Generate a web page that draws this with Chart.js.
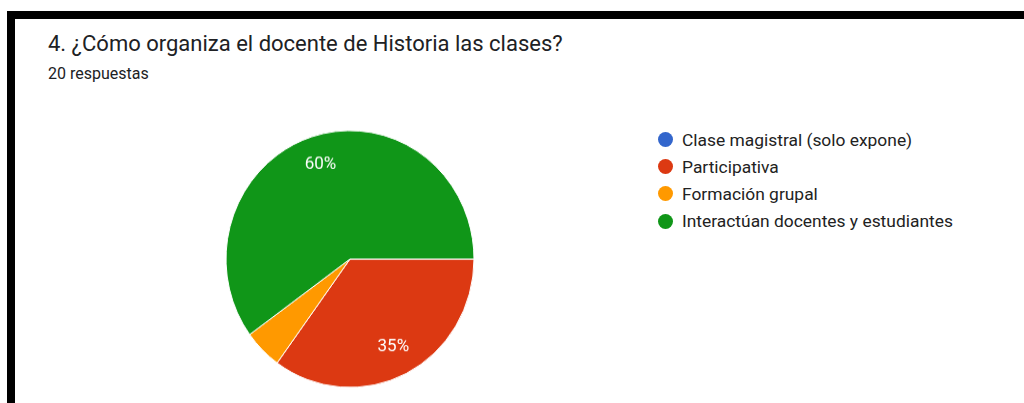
<!DOCTYPE html>
<html>
<head>
<meta charset="utf-8">
<script src="https://cdn.jsdelivr.net/npm/chart.js@4.4.0/dist/chart.umd.min.js"></script>
<style>
  body { margin: 0; background: #fff; font-family: Roboto, Arial, sans-serif; }
  #page { position: relative; width: 1024px; height: 403px; overflow: hidden; background: #fff; }
  #frameTop { position: absolute; left: 7px; top: 11px; width: 1017px; height: 8px; background: #000; }
  #frameLeft { position: absolute; left: 7px; top: 11px; width: 8px; height: 392px; background: #000; }
  #title { position: absolute; left: 48px; top: 31px; font-size: 22px; color: #202124; white-space: nowrap; }
  #subtitle { position: absolute; left: 48px; top: 64px; font-size: 16px; color: #202124; white-space: nowrap; }
  #pieBox { position: absolute; left: 219.5px; top: 129px; width: 260px; height: 260px; transform: scaleY(1.036); }
  #legend { position: absolute; left: 658px; top: 126px; }
  .item { display: flex; align-items: center; height: 27.2px; font-size: 17.4px; color: #222; white-space: nowrap; }
  .dot { width: 15px; height: 15px; border-radius: 50%; margin-right: 9px; }
</style>
</head>
<body>
<div id="page">
  <div id="frameTop"></div>
  <div id="frameLeft"></div>
  <div id="title">4. ¿Cómo organiza el docente de Historia las clases?</div>
  <div id="subtitle">20 respuestas</div>
  <div id="pieBox"><canvas id="pieChart"></canvas></div>
  <div id="legend"></div>
</div>
<script>
// Chart data
const categories = [
    'Clase magistral (solo expone)',
    'Participativa',
    'Formación grupal',
    'Interactúan docentes y estudiantes'
];
const responses = [0, 7, 1, 12];
const colors = ['#3366cc', '#dc3912', '#ff9900', '#109618'];

// Draw percent labels inside slices (small slices get no label)
const sliceLabels = {
    id: 'sliceLabels',
    afterDatasetsDraw(chart) {
        const ctx = chart.ctx;
        const meta = chart.getDatasetMeta(0);
        const total = responses.reduce((a, b) => a + b, 0);
        ctx.save();
        ctx.fillStyle = '#fff';
        ctx.font = '17px Roboto, Arial, sans-serif';
        ctx.textAlign = 'center';
        ctx.textBaseline = 'middle';
        meta.data.forEach((arc, i) => {
            const pct = responses[i] / total * 100;
            if (pct < 10) return;
            const p = arc.getProps(['x', 'y', 'startAngle', 'endAngle', 'outerRadius'], true);
            const mid = (p.startAngle + p.endAngle) / 2;
            const r = p.outerRadius * 0.77;
            ctx.fillText(Math.round(pct) + '%', p.x + Math.cos(mid) * r, p.y + Math.sin(mid) * r);
        });
        ctx.restore();
    }
};

function createPieChart() {
    const ctx = document.getElementById('pieChart').getContext('2d');
    new Chart(ctx, {
        type: 'pie',
        data: {
            labels: categories,
            datasets: [{
                data: responses,
                backgroundColor: colors,
                borderColor: '#fff',
                borderWidth: 1
            }]
        },
        options: {
            responsive: true,
            maintainAspectRatio: false,
            animation: false,
            rotation: 90,
            layout: { padding: 5.5 },
            plugins: {
                legend: { display: false },
                tooltip: { enabled: false }
            }
        },
        plugins: [sliceLabels]
    });
}

function buildLegend() {
    const box = document.getElementById('legend');
    categories.forEach((name, i) => {
        const row = document.createElement('div');
        row.className = 'item';
        const dot = document.createElement('span');
        dot.className = 'dot';
        dot.style.background = colors[i];
        row.appendChild(dot);
        row.appendChild(document.createTextNode(name));
        box.appendChild(row);
    });
}

window.onload = function() {
    buildLegend();
    createPieChart();
};
</script>
</body>
</html>
